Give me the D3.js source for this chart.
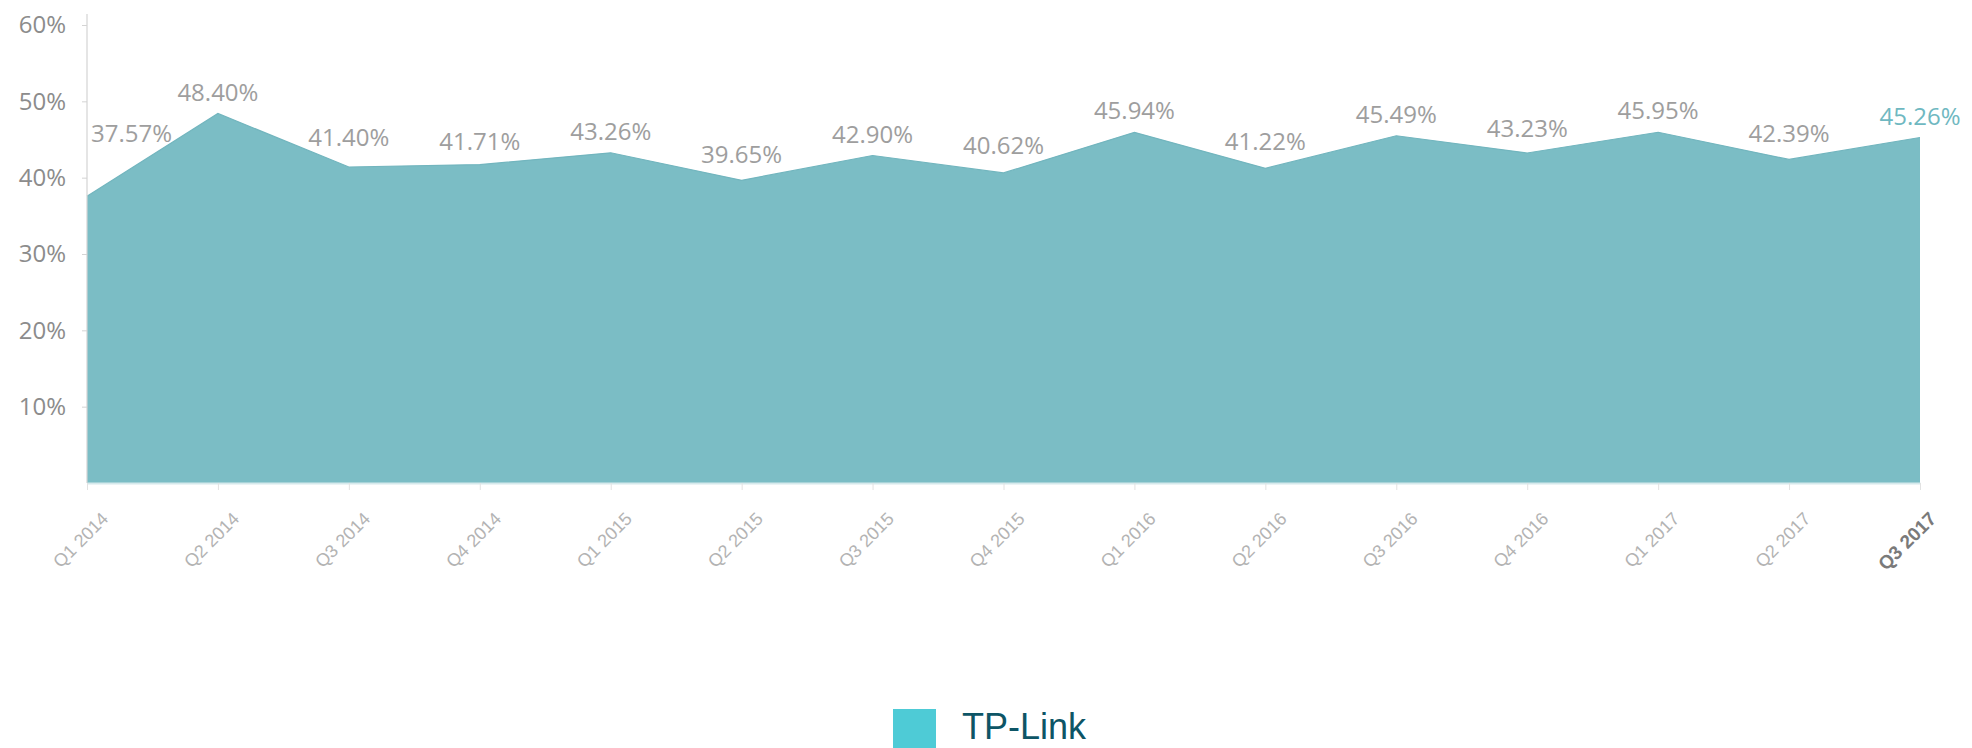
<!DOCTYPE html>
<html>
<head>
<meta charset="utf-8">
<script src="https://cdn.jsdelivr.net/npm/d3@7"></script>
<style>
  html, body { margin: 0; padding: 0; background: #ffffff; overflow: hidden; }
  svg { display: block; }
</style>
</head>
<body>
<svg id="chart" width="1972" height="748"></svg>
<script>
// ---- data ----
const categories = ["Q1 2014", "Q2 2014", "Q3 2014", "Q4 2014", "Q1 2015", "Q2 2015", "Q3 2015", "Q4 2015",
                    "Q1 2016", "Q2 2016", "Q3 2016", "Q4 2016", "Q1 2017", "Q2 2017", "Q3 2017"];
const shares = [37.57, 48.40, 41.40, 41.71, 43.26, 39.65, 42.90, 40.62,
                45.94, 41.22, 45.49, 43.23, 45.95, 42.39, 45.26];
const yTickValues = [10, 20, 30, 40, 50, 60];
const yTickLabels = ["10%", "20%", "30%", "40%", "50%", "60%"];
const seriesName = "TP-Link";
const highlightCategory = "Q3 2017";

// ---- layout ----
const svg = d3.select("#chart");
const plotLeft = 87, plotRight = 1920, plotTop = 25, plotBottom = 483;

const x = d3.scalePoint().domain(categories).range([plotLeft, plotRight]);
const y = d3.scaleLinear().domain([0, 60]).range([plotBottom, plotTop]);

// area
const rows = categories.map((c, i) => ({ c, v: shares[i] }));
const area = d3.area()
  .x(d => x(d.c))
  .y0(y(0))
  .y1(d => y(d.v));
svg.append("path")
  .datum(rows)
  .attr("d", area)
  .attr("fill", "#7bbdc5");
svg.append("path")
  .datum(rows)
  .attr("d", d3.line().x(d => x(d.c)).y(d => y(d.v)))
  .attr("fill", "none")
  .attr("stroke", "#72b5be")
  .attr("stroke-width", 1.2);

// y axis
const yAxis = d3.axisLeft(y)
  .tickValues(yTickValues)
  .tickFormat((d, i) => yTickLabels[i])
  .tickSizeInner(5)
  .tickSizeOuter(0)
  .tickPadding(16);
const gy = svg.append("g").attr("transform", `translate(${plotLeft},0)`).call(yAxis);
gy.select(".domain").remove();
gy.append("line").attr("x1", 0).attr("x2", 0).attr("y1", 14).attr("y2", plotBottom)
  .attr("stroke", "#d4d4d4").attr("stroke-width", 1.2);
gy.selectAll(".tick line").attr("stroke", "#d4d4d4");
gy.selectAll(".tick text")
  .attr("font-family", "'Open Sans', sans-serif")
  .attr("font-size", 24)
  .attr("fill", "#8c8c8c");

// x axis
const xAxis = d3.axisBottom(x).tickSizeInner(7).tickSizeOuter(0).tickPadding(0);
const gx = svg.append("g").attr("transform", `translate(0,${plotBottom})`).call(xAxis);
gx.select(".domain").attr("stroke", "#d6e9ec").attr("stroke-width", 2);
gx.selectAll(".tick line").attr("stroke", "#e2e2e2");
gx.selectAll(".tick text")
  .attr("font-family", "'Liberation Sans', Arial, sans-serif")
  .attr("font-size", d => d === highlightCategory ? 19 : 18)
  .attr("font-weight", d => d === highlightCategory ? "bold" : "normal")
  .attr("fill", d => d === highlightCategory ? "#7a7a7a" : "#b3b3b3")
  .attr("text-anchor", "end")
  .attr("dy", null)
  .attr("transform", d => d === highlightCategory ? "translate(12,32) rotate(-45)" : "translate(17,32) rotate(-45)");

// data labels, lifted above the area outline under their core
function topYAt(px) {
  const pts = rows.map(d => [x(d.c), y(d.v)]);
  if (px <= pts[0][0]) return pts[0][1];
  if (px >= pts[pts.length - 1][0]) return pts[pts.length - 1][1];
  for (let i = 0; i < pts.length - 1; i++) {
    const [x0, y0] = pts[i], [x1, y1] = pts[i + 1];
    if (px >= x0 && px <= x1) return y0 + (y1 - y0) * (px - x0) / (x1 - x0);
  }
  return y(0);
}
const labels = svg.append("g").selectAll("text")
  .data(rows)
  .join("text")
  .attr("font-family", "'Open Sans', sans-serif")
  .attr("font-size", 24)
  .attr("fill", d => d.c === highlightCategory ? "#6fb8c1" : "#9e9e9e")
  .attr("text-anchor", (d, i) => i === 0 ? "start" : "middle")
  .text(d => d.v.toFixed(2) + "%");
labels.each(function (d, i) {
  const w = this.getComputedTextLength();
  const cx = x(d.c);
  const startX = i === 0 ? cx + 4 : cx - w / 2;
  const x0 = startX + w / 4, x1 = startX + 3 * w / 4;
  let minY = Math.min(topYAt(x0), topYAt(x1));
  rows.forEach(r => { const px = x(r.c); if (px >= x0 && px <= x1) minY = Math.min(minY, y(r.v)); });
  d3.select(this).attr("x", i === 0 ? cx + 4 : cx).attr("y", minY - 13);
});

// legend
const legend = svg.append("g");
legend.append("rect").attr("x", 893).attr("y", 709).attr("width", 43).attr("height", 43).attr("fill", "#4ecbd6");
legend.append("text").attr("x", 962).attr("y", 739)
  .attr("font-family", "'Liberation Sans', Arial, sans-serif")
  .attr("font-size", 36)
  .attr("fill", "#0d5566")
  .text(seriesName);
</script>
</body>
</html>
